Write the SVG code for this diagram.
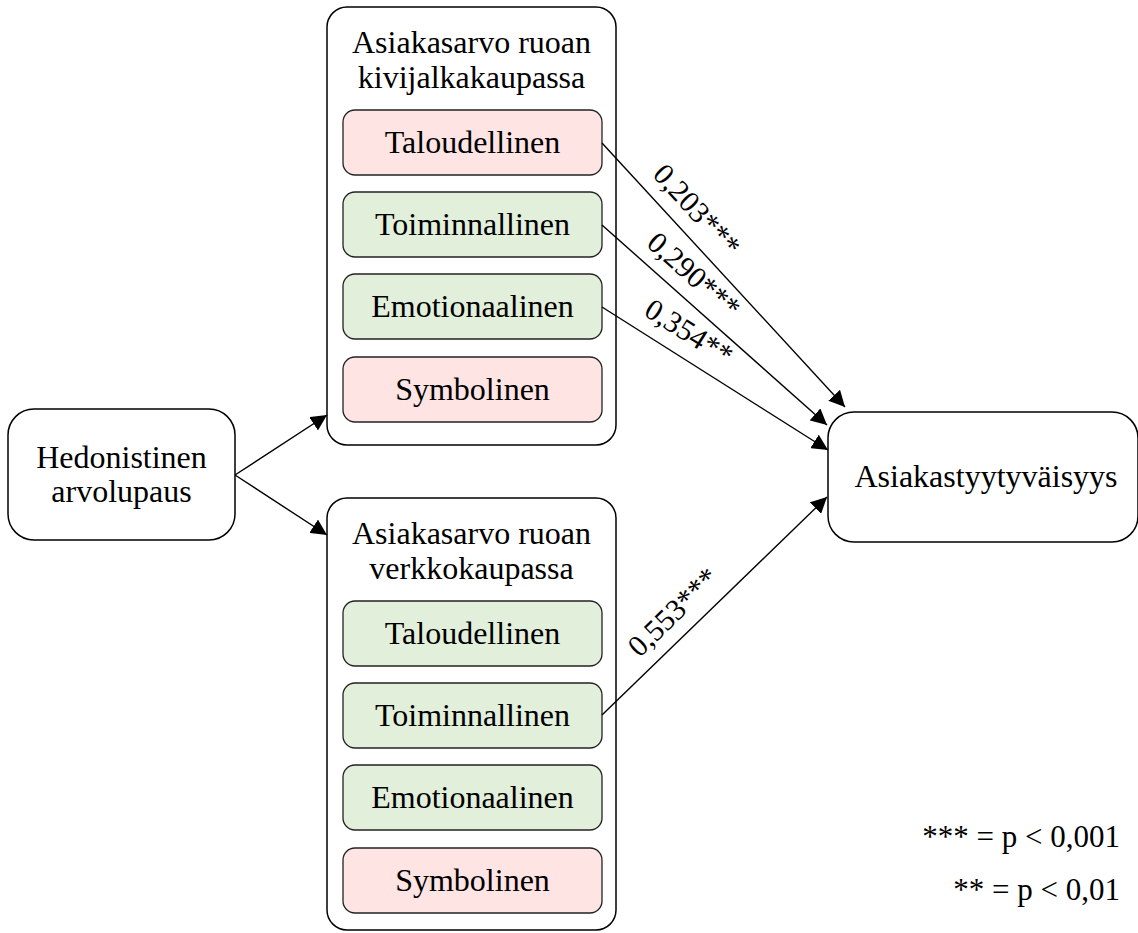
<svg xmlns="http://www.w3.org/2000/svg" width="1138" height="933" viewBox="0 0 1138 933">
<defs>
<marker id="ah" viewBox="0 0 10 10" refX="10" refY="5" markerWidth="16" markerHeight="16" markerUnits="userSpaceOnUse" orient="auto">
<path d="M0,0 L10,5 L0,10 z" fill="#000"/>
</marker>
<style>
text{font-family:"Liberation Serif","Times New Roman",serif;fill:#000;}
.t{font-size:32px;text-anchor:middle;}
.lab{font-size:30px;text-anchor:middle;}
.leg{font-size:31px;text-anchor:end;}
.outer{fill:#fff;stroke:#000;stroke-width:1.5;}
.pink{fill:#FFE4E4;stroke:#222;stroke-width:1.3;}
.green{fill:#E2EFDA;stroke:#222;stroke-width:1.3;}
.main{fill:#fff;stroke:#000;stroke-width:1.5;}
.edge{fill:none;stroke:#000;stroke-width:1.4;marker-end:url(#ah);}
</style>
</defs>
<rect width="1138" height="933" fill="#fff"/>

<g id="hedonistinen">
<rect class="main" x="8" y="409" width="227" height="131" rx="26"/>
<text class="t" x="121.5" y="468">Hedonistinen</text>
<text class="t" x="121.5" y="502">arvolupaus</text>
</g>

<g id="kivijalka">
<rect class="outer" x="327" y="7" width="289" height="438" rx="20"/>
<text class="t" x="471.5" y="53">Asiakasarvo ruoan</text>
<text class="t" x="471.5" y="88">kivijalkakaupassa</text>
<g id="k-taloudellinen"><rect class="pink" x="343" y="110" width="259" height="65" rx="12"/><text class="t" x="472.5" y="153">Taloudellinen</text></g>
<g id="k-toiminnallinen"><rect class="green" x="343" y="192" width="259" height="65" rx="12"/><text class="t" x="472.5" y="235">Toiminnallinen</text></g>
<g id="k-emotionaalinen"><rect class="green" x="343" y="274" width="259" height="65" rx="12"/><text class="t" x="472.5" y="317">Emotionaalinen</text></g>
<g id="k-symbolinen"><rect class="pink" x="343" y="357" width="259" height="65" rx="12"/><text class="t" x="472.5" y="400">Symbolinen</text></g>
</g>

<g id="verkko">
<rect class="outer" x="327" y="498" width="289" height="432" rx="20"/>
<text class="t" x="471.5" y="544">Asiakasarvo ruoan</text>
<text class="t" x="471.5" y="579">verkkokaupassa</text>
<g id="v-taloudellinen"><rect class="green" x="343" y="601" width="259" height="65" rx="12"/><text class="t" x="472.5" y="644">Taloudellinen</text></g>
<g id="v-toiminnallinen"><rect class="green" x="343" y="683" width="259" height="65" rx="12"/><text class="t" x="472.5" y="726">Toiminnallinen</text></g>
<g id="v-emotionaalinen"><rect class="green" x="343" y="765" width="259" height="65" rx="12"/><text class="t" x="472.5" y="808">Emotionaalinen</text></g>
<g id="v-symbolinen"><rect class="pink" x="343" y="848" width="259" height="65" rx="12"/><text class="t" x="472.5" y="891">Symbolinen</text></g>
</g>

<g id="tyytyvaisyys">
<rect class="main" x="828" y="412" width="310" height="130" rx="26"/>
<text class="t" x="986" y="487">Asiakastyytyväisyys</text>
</g>

<g id="connectors">
<path class="edge" d="M235,475 L327,415"/>
<path class="edge" d="M235,475 L327,535"/>
<path class="edge" d="M602,143 L845,407"/>
<path class="edge" d="M602,225 L827,425"/>
<path class="edge" d="M602,307 L828,450"/>
<path class="edge" d="M602,715 L827,497"/>
<text class="lab" transform="translate(697,210) rotate(47.4)" y="10">0,203***</text>
<text class="lab" transform="translate(694,275) rotate(41.6)" y="10">0,290***</text>
<text class="lab" transform="translate(689,332) rotate(32.3)" y="10">0,354**</text>
<text class="lab" transform="translate(673,612) rotate(-44)" y="10">0,553***</text>
</g>

<g id="legend">
<text class="leg" x="1120" y="847">*** = p &lt; 0,001</text>
<text class="leg" x="1120" y="900">** = p &lt; 0,01</text>
</g>
</svg>
